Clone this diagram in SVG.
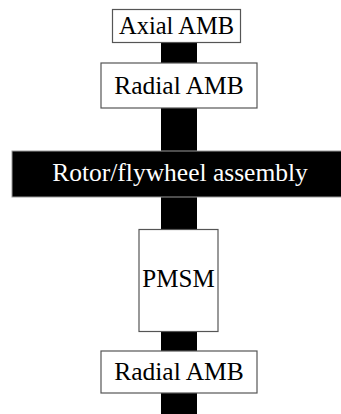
<svg xmlns="http://www.w3.org/2000/svg" width="341" height="414" viewBox="0 0 341 414">
<style>
.box{fill:#fff;stroke:#555;stroke-width:1.2}
.t{font-family:"Liberation Serif","Times New Roman",serif;font-size:25.5px;text-anchor:middle;fill:#000}
.w{fill:#fff}
.shaft{fill:#000}
</style>
<rect width="341" height="414" fill="#fff"/>
<g id="connectors">
<rect class="shaft" x="161" y="42" width="36" height="372"/>
</g>
<g id="rotor">
<rect x="12" y="151" width="335" height="46" fill="#000" stroke="#999" stroke-width="1"/>
<text class="t w" x="180" y="181">Rotor/flywheel assembly</text>
</g>
<g id="axial-amb">
<rect class="box" x="112.5" y="9.5" width="128" height="33"/>
<text class="t" x="176.5" y="33.5" style="font-size:24.5px">Axial AMB</text>
</g>
<g id="radial-amb-top">
<rect class="box" x="101" y="63" width="156" height="45"/>
<text class="t" x="179" y="94">Radial AMB</text>
</g>
<g id="pmsm">
<rect class="box" x="139" y="229.5" width="79" height="102"/>
<text class="t" x="178.5" y="287" style="font-size:25px">PMSM</text>
</g>
<g id="radial-amb-bottom">
<rect class="box" x="101" y="351" width="156" height="42"/>
<text class="t" x="179" y="379.5">Radial AMB</text>
</g>
</svg>
